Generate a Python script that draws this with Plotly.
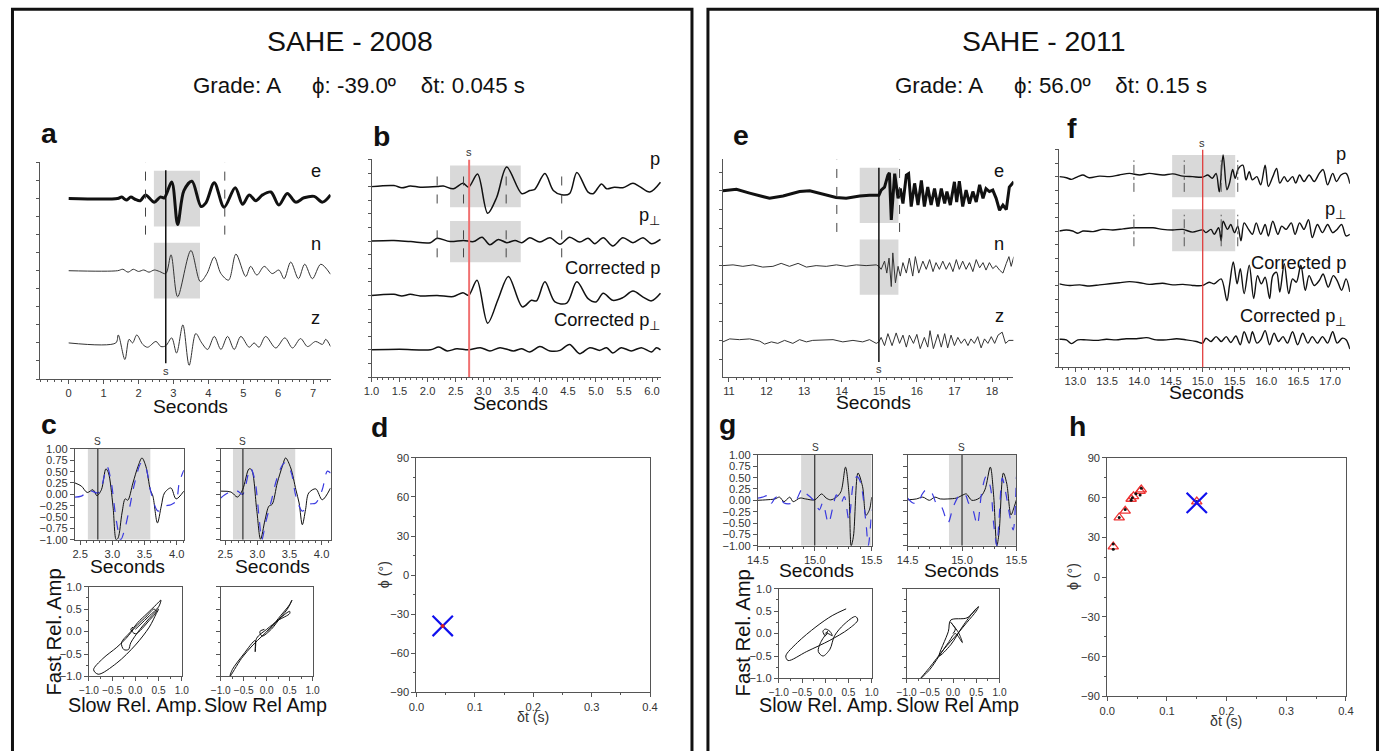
import plotly.graph_objects as go

W, H = 1390, 751
FONT = "Liberation Sans, Arial, Helvetica, sans-serif"
INK = "#111111"
AX = "#555555"
TXT = "#333333"
GRAY = "#d9d9d9"
BLUE = "#3a3ae0"

# ======================= SAHE 2008 =======================
title_2008 = "SAHE - 2008"
grade_2008, phi_2008, dt_2008 = "A", -39.0, 0.045

# panel a : e / n / z seismograms (time s, relative amplitude)
a_e_t = [0, 1.40, 1.52, 1.65, 1.78, 1.90, 2.05, 2.20, 2.45, 2.62, 2.74, 2.95, 3.12, 3.30, 3.53, 3.79, 3.93, 4.17, 4.45,
         4.77, 4.98, 5.17, 5.36, 5.55, 5.79, 6.02, 6.26, 6.50, 6.74, 7.03, 7.27, 7.5]
a_e_amp = [0, 0, 0.02, -0.02, 0.02, -0.01, -0.03, 0.05, -0.05, 0.02, 0.01, 0.23, -0.36, 0.11, 0.24, -0.11, -0.06, 0.22,
           -0.12, 0.15, -0.08, 0.05, -0.03, 0.05, 0.09, -0.09, 0.07, -0.05, 0.01, 0.03, -0.05, 0.05]
a_n_t = [0, 1.40, 1.55, 1.70, 1.85, 2.0, 2.15, 2.3, 2.45, 2.6, 2.78, 2.93, 3.12, 3.50, 3.77, 3.96, 4.17, 4.36, 4.58,
         4.79, 5.07, 5.21, 5.39, 5.60, 5.83, 6.02, 6.17, 6.36, 6.58, 6.76, 6.98, 7.22, 7.5]
a_n_amp = [0, 0, 0.02, -0.02, 0.02, -0.01, 0.01, -0.02, 0.01, -0.01, -0.04, 0.22, -0.36, 0.28, -0.15, -0.04, 0.19,
           -0.04, -0.13, 0.23, -0.08, 0.06, -0.06, 0.06, -0.04, 0.01, -0.11, 0.12, -0.11, 0.09, -0.11, 0.09, -0.05]
a_z_t = [0, 1.35, 1.42, 1.61, 1.73, 1.83, 1.95, 2.12, 2.26, 2.50, 2.64, 2.78, 2.95, 3.09, 3.27, 3.45, 3.64, 3.81, 3.98,
         4.17, 4.36, 4.55, 4.74, 4.93, 5.17, 5.31, 5.45, 5.64, 5.93, 6.19, 6.41, 6.64, 6.84, 7.07, 7.27, 7.36, 7.5]
a_z_amp = [0, 0, 0.11, -0.23, 0.05, 0, 0.11, -0.02, -0.06, 0.02, -0.05, -0.04, 0.07, -0.14, 0.25, -0.31, 0.13, 0,
           -0.09, 0.09, -0.09, 0.09, -0.09, 0.09, -0.06, 0, -0.06, 0.09, -0.07, 0.07, -0.07, 0.06, -0.05, 0.02, -0.02,
           0.05, -0.05]
a_window = (2.44, 3.76)
a_picks = (2.20, 4.47)
a_s_time = 2.78

# panel b : p, p-perp, corrected p, corrected p-perp
b_p_t = [1.0, 1.40, 1.54, 1.69, 1.87, 2.17, 2.28, 2.46, 2.63, 2.73, 2.89, 3.07, 3.23, 3.41, 3.68, 3.82, 3.91, 4.09, 4.24,
         4.39, 4.53, 4.66, 4.86, 4.95, 5.10, 5.19, 5.33, 5.48, 5.66, 5.78, 5.96, 6.15]
b_p_amp = [0, 0.02, -0.02, 0.01, -0.01, 0, 0.01, -0.04, 0.06, -0.01, 0.23, -0.49, -0.2, 0.36, -0.13, -0.07, -0.05,
           0.24, -0.07, -0.15, -0.13, 0.26, -0.1, -0.13, 0.05, -0.04, -0.01, -0.02, 0.06, 0, -0.1, 0.08]
b_pp_t = [1.0, 1.4, 1.7, 2.05, 2.17, 2.40, 2.64, 2.82, 2.97, 3.11, 3.26, 3.41, 3.56, 3.68, 3.82, 4.0, 4.18, 4.36, 4.53,
          4.71, 4.86, 4.98, 5.13, 5.30, 5.48, 5.66, 5.84, 5.99, 6.15]
b_pp_amp = [0, 0.01, -0.01, -0.03, 0.05, -0.01, 0.01, -0.01, 0.07, -0.07, 0.03, -0.03, 0.01, -0.03, 0.06, -0.02, 0.06,
            -0.06, 0.07, -0.02, 0.05, -0.05, 0.06, -0.09, 0.06, -0.03, 0.06, -0.05, 0.03]
b_cp_t = [1.0, 1.4, 1.54, 1.69, 1.87, 2.17, 2.46, 2.63, 2.73, 2.88, 3.07, 3.26, 3.44, 3.69, 3.85, 3.94, 4.09, 4.27, 4.48,
          4.66, 4.86, 5.0, 5.13, 5.30, 5.48, 5.66, 5.84, 5.99, 6.15]
b_cp_amp = [0, 0.02, -0.01, 0.02, -0.01, 0, -0.02, 0.05, 0, 0.28, -0.51, -0.06, 0.35, -0.21, -0.09, -0.1, 0.25, -0.12,
            -0.14, 0.25, -0.06, -0.12, 0.04, -0.09, -0.04, 0.08, -0.03, -0.10, 0.04]
b_cpp_t = [1.0, 1.5, 2.05, 2.2, 2.35, 2.52, 2.73, 2.94, 3.11, 3.29, 3.53, 3.68, 3.82, 4.0, 4.18, 4.36, 4.53, 4.71, 4.89,
           5.07, 5.19, 5.30, 5.45, 5.63, 5.81, 5.99, 6.08, 6.15]
b_cpp_amp = [0, 0.01, 0, 0.05, -0.02, 0.02, 0, 0.04, -0.02, 0.04, -0.02, 0.02, -0.04, 0.06, -0.02, -0.01, 0.1, -0.07,
             0.04, -0.01, 0.04, -0.06, 0.04, -0.02, 0.04, -0.04, 0.04, 0]
b_window = (2.40, 3.66)
b_picks = [2.17, 2.64, 3.40, 4.39]
b_s_time = 2.74

# panel c : normalised fast/slow waveforms and particle motion
c1_t_k = [2.42, 2.52, 2.61, 2.70, 2.76, 2.83, 2.90, 2.94, 3.01, 3.06, 3.09, 3.15, 3.20, 3.24, 3.32, 3.40, 3.46, 3.52,
          3.59, 3.63, 3.70, 3.76, 3.81, 3.91, 3.99, 4.11]
c1_k = [0.25, 0.18, 0.04, 0.10, -0.03, 0.10, 0.56, 0.47, -0.26, -1.0, -0.96, -0.41, -0.10, -0.13, 0.25, 0.62, 0.80,
        0.62, 0.10, -0.04, -0.63, -0.26, 0.03, 0.14, -0.10, 0.07]
c1_t_b = [2.42, 2.52, 2.64, 2.78, 2.84, 2.92, 2.98, 3.06, 3.13, 3.19, 3.27, 3.34, 3.45, 3.52, 3.60, 3.71, 3.81, 3.91,
          3.99, 4.04, 4.11]
c1_b = [-0.06, -0.04, 0.08, 0.03, 0.21, 0.60, 0.29, -0.56, -1.0, -0.78, -0.28, 0.21, 0.69, 0.58, 0.04, -0.37, -0.26,
        -0.23, -0.15, 0.26, 0.53]
c2_t_k = [2.43, 2.59, 2.69, 2.77, 2.87, 2.91, 2.99, 3.05, 3.12, 3.18, 3.23, 3.31, 3.39, 3.44, 3.52, 3.60, 3.65, 3.70,
          3.75, 3.80, 3.91, 4.01, 4.14]
c2_k = [0.07, 0.05, -0.06, 0.10, 0.56, 0.54, -0.34, -0.99, -0.56, -0.26, -0.22, 0.25, 0.62, 0.80, 0.58, 0.10, -0.19,
        -0.67, -0.34, 0.03, 0.12, -0.12, 0.14]
c2_t_b = [2.43, 2.54, 2.69, 2.77, 2.89, 2.96, 3.03, 3.07, 3.13, 3.21, 3.31, 3.42, 3.52, 3.60, 3.70, 3.80, 3.91, 4.01,
          4.09, 4.14]
c2_b = [-0.08, 0.03, 0.07, 0.0, 0.58, 0.32, -0.56, -1.0, -0.62, -0.19, 0.37, 0.69, 0.51, -0.04, -0.37, -0.22, -0.19,
        0.10, 0.51, 0.47]
c_window = (2.62, 3.59)
c_s_time = 2.775
c3_x = [0, 0.1, 0.3, 0.5, 0.55, 0.45, 0.25, 0.05, -0.1, -0.3, -0.25, -0.15, -0.1, 0.1, 0.35, 0.5, 0.45, 0.3, 0.0,
        -0.4, -0.8, -0.9, -0.7, -0.4, -0.2, 0.0, 0.25, 0.4, 0.45, 0.3, 0.0, -0.1, -0.05]
c3_y = [0.05, 0.15, 0.35, 0.55, 0.7, 0.6, 0.4, 0.2, 0.0, -0.25, -0.4, -0.4, -0.25, 0.05, 0.35, 0.5, 0.4, 0.1, -0.3,
        -0.7, -0.95, -0.85, -0.6, -0.35, -0.15, 0.1, 0.35, 0.5, 0.45, 0.25, -0.05, 0.05, 0.1]
c4_x = [0, 0.2, 0.45, 0.55, 0.5, 0.3, 0.1, -0.1, -0.3, -0.55, -0.8, -0.75, -0.5, -0.25, -0.25, -0.22, 0.0, 0.25, 0.5,
        0.5, 0.3, 0.1, -0.1, -0.15, -0.05]
c4_y = [0, 0.2, 0.5, 0.7, 0.6, 0.35, 0.1, -0.1, -0.3, -0.6, -1.0, -0.85, -0.5, -0.2, -0.45, -0.15, 0.05, 0.25, 0.4,
        0.45, 0.3, 0.05, -0.1, 0.0, 0.05]

# panel d : grid-search result
d_dt = [0.045]
d_phi = [-39.0]

# ======================= SAHE 2011 =======================
title_2011 = "SAHE - 2011"
grade_2011, phi_2011, dt_2011 = "A", 56.0, 0.15

e_e_t = [10.84, 11.2, 11.55, 11.82, 12.08, 12.44, 12.88, 13.15, 13.5, 13.85, 14.12, 14.48, 14.74, 14.99, 15.05, 15.14,
         15.23, 15.27, 15.32, 15.36, 15.41, 15.5, 15.56, 15.63, 15.72, 15.78, 15.85, 15.94, 16.03, 16.12, 16.2, 16.29,
         16.38, 16.47, 16.56, 16.65, 16.74, 16.8, 16.89, 17.0, 17.06, 17.13, 17.22, 17.31, 17.4, 17.49, 17.58, 17.67,
         17.76, 17.84, 17.93, 18.02, 18.11, 18.2, 18.29, 18.38, 18.46, 18.58]
e_e_amp = [0, 0.02, -0.03, -0.07, -0.1, -0.07, -0.01, 0, -0.04, -0.09, -0.1, -0.07, -0.06, -0.06, 0.01, 0.05, 0.21,
           0.24, -0.39, -0.08, 0.23, -0.1, 0.03, -0.17, 0.21, 0.23, -0.21, 0.10, -0.19, 0.14, -0.21, 0.05, -0.19, 0.03,
           -0.21, 0.03, -0.17, -0.01, -0.19, 0.12, -0.15, 0.13, -0.21, 0.01, -0.17, -0.01, -0.15, 0.08, -0.10, 0.03,
           -0.01, 0.01, -0.10, -0.26, -0.19, -0.25, 0.05, 0.12]
e_n_t = [10.84, 11.11, 11.37, 11.64, 11.9, 12.17, 12.39, 12.61, 12.84, 13.06, 13.32, 13.59, 13.86, 14.12, 14.39, 14.65,
         14.92, 14.99, 15.05, 15.14, 15.2, 15.26, 15.32, 15.36, 15.43, 15.5, 15.56, 15.63, 15.72, 15.8, 15.89, 15.96,
         16.05, 16.16, 16.25, 16.34, 16.43, 16.51, 16.6, 16.69, 16.78, 16.87, 16.96, 17.05, 17.13, 17.22, 17.31, 17.4,
         17.49, 17.58, 17.67, 17.76, 17.84, 17.93, 18.02, 18.11, 18.2, 18.29, 18.38, 18.45, 18.51, 18.58]
e_n_amp = [0, 0.01, -0.01, 0.01, -0.02, -0.01, 0.03, -0.01, 0.03, -0.02, 0, -0.01, 0.01, -0.01, 0.01, 0, 0.01, -0.01,
           -0.05, 0.06, -0.1, 0.1, -0.28, 0.17, -0.23, -0.01, -0.14, 0.04, -0.1, 0.1, -0.14, 0.12, -0.1, 0.06, -0.05,
           0.08, -0.08, 0.04, -0.05, 0.06, -0.05, 0.04, -0.08, 0.08, -0.05, 0.06, -0.05, 0.04, -0.08, 0.08, -0.03, 0.04,
           -0.06, 0.04, -0.04, 0, -0.06, -0.1, 0.03, 0.12, -0.01, 0.12]
e_z_t = [10.84, 11.02, 11.28, 11.55, 11.82, 11.95, 12.13, 12.3, 12.48, 12.7, 12.88, 13.06, 13.23, 13.5, 13.77, 14.03,
         14.3, 14.56, 14.74, 14.92, 14.99, 15.05, 15.14, 15.23, 15.34, 15.45, 15.54, 15.63, 15.72, 15.8, 15.91, 16.0,
         16.09, 16.2, 16.29, 16.35, 16.44, 16.56, 16.65, 16.74, 16.82, 16.91, 17.0, 17.09, 17.18, 17.27, 17.36, 17.44,
         17.53, 17.62, 17.71, 17.8, 17.89, 17.98, 18.07, 18.16, 18.27, 18.36, 18.45, 18.58]
e_z_amp = [-0.02, 0.02, 0.01, 0.02, -0.01, -0.05, -0.02, -0.04, 0, -0.04, 0.01, -0.02, 0, 0, 0.01, -0.02, 0, -0.02,
           0.01, -0.04, -0.02, 0.04, -0.07, 0.09, -0.07, 0.1, -0.04, 0.07, -0.09, 0.07, -0.04, 0.08, -0.11, 0.04, -0.09,
           0.13, -0.11, 0.08, -0.09, 0.09, -0.1, 0.07, -0.07, 0.04, -0.04, 0.02, -0.07, 0.02, -0.04, 0.05, -0.1, 0.02,
           -0.04, 0.05, -0.04, 0.07, 0.11, -0.04, 0, 0]
e_window = (14.48, 15.51)
e_picks = (13.87, 15.54)
e_s_time = 14.99

f_p_t = [12.75, 12.86, 12.94, 13.04, 13.12, 13.22, 13.38, 13.54, 13.69, 13.85, 14.01, 14.16, 14.37, 14.53, 14.69,
         14.84, 15.0, 15.08, 15.15, 15.21, 15.26, 15.32, 15.38, 15.42, 15.47, 15.51, 15.56, 15.63, 15.68, 15.73, 15.78,
         15.85, 15.91, 15.98, 16.03, 16.1, 16.16, 16.21, 16.28, 16.33, 16.41, 16.46, 16.52, 16.59, 16.67, 16.75, 16.83,
         16.89, 16.96, 17.04, 17.1, 17.17, 17.25, 17.31]
f_p_amp = [0, -0.02, -0.05, 0, 0.03, -0.02, 0.01, 0, 0.03, 0.06, 0.03, 0.06, 0.03, 0.05, 0.01, 0, -0.01, 0.03, -0.03,
           0.06, -0.28, 0.4, -0.24, -0.12, 0.13, -0.03, 0.15, 0.21, -0.06, 0.09, -0.06, 0, -0.15, 0.21, -0.18, 0, 0.15,
           -0.12, 0, -0.09, 0, -0.12, 0.03, -0.09, 0.03, -0.09, 0.06, 0.13, -0.15, 0.06, -0.09, 0.03, 0.06, -0.13]
f_pp_t = [12.75, 12.86, 12.96, 13.04, 13.12, 13.28, 13.43, 13.59, 13.75, 13.91, 14.06, 14.22, 14.37, 14.53, 14.69,
          14.84, 15.0, 15.05, 15.13, 15.18, 15.25, 15.29, 15.32, 15.39, 15.44, 15.5, 15.55, 15.6, 15.65, 15.72, 15.78,
          15.84, 15.91, 15.98, 16.03, 16.1, 16.18, 16.24, 16.31, 16.39, 16.45, 16.52, 16.59, 16.66, 16.72, 16.8, 16.88,
          16.96, 17.04, 17.11, 17.18, 17.25, 17.31]
f_pp_amp = [0, 0.02, 0, -0.04, 0, -0.01, 0.03, 0.02, 0.04, 0.06, 0.06, 0.06, 0.03, 0.02, 0.03, -0.02, 0.02, -0.03,
            0.03, -0.06, 0.06, -0.18, 0.18, 0.03, 0.12, -0.03, 0.09, -0.18, 0.15, 0.03, -0.06, 0.15, -0.06, 0.12, -0.09,
            0.18, -0.06, 0.09, 0.03, 0.15, -0.06, 0.15, 0.03, 0.21, -0.12, 0.12, -0.03, 0.12, -0.03, 0.03, 0.12, -0.09,
            -0.06]
f_cp_t = [12.75, 12.91, 13.07, 13.22, 13.38, 13.54, 13.69, 13.85, 14.01, 14.16, 14.37, 14.53, 14.69, 14.84, 15.0, 15.1,
          15.18, 15.29, 15.38, 15.42, 15.48, 15.54, 15.59, 15.65, 15.73, 15.8, 15.86, 15.92, 15.98, 16.05, 16.1, 16.16,
          16.21, 16.28, 16.35, 16.41, 16.47, 16.54, 16.61, 16.67, 16.75, 16.83, 16.89, 16.97, 17.05, 17.11, 17.18, 17.25,
          17.31]
f_cp_amp = [0.03, 0, 0.01, -0.01, 0.01, 0.03, 0.05, 0.07, 0.05, 0.02, 0.04, 0.01, 0.02, 0, 0, 0.06, 0.03, 0.12, -0.28,
            0, 0.43, 0.03, 0.31, -0.15, 0.37, -0.24, 0.18, 0.03, 0.15, -0.24, 0.18, 0.24, -0.12, 0.4, -0.15, 0.12, 0.06,
            0.37, -0.09, 0.18, 0, 0.09, 0.21, -0.03, 0.18, 0.09, -0.09, 0.12, -0.12]
f_cpp_t = [12.75, 12.86, 12.94, 13.04, 13.17, 13.33, 13.49, 13.64, 13.8, 13.96, 14.12, 14.27, 14.43, 14.59, 14.74,
           14.9, 15.0, 15.05, 15.13, 15.21, 15.29, 15.37, 15.44, 15.52, 15.59, 15.65, 15.73, 15.78, 15.85, 15.91, 15.98,
           16.05, 16.12, 16.19, 16.26, 16.33, 16.41, 16.49, 16.57, 16.65, 16.72, 16.8, 16.88, 16.96, 17.04, 17.11, 17.19,
           17.25, 17.31]
f_cpp_amp = [0.01, 0, -0.07, 0, 0, -0.01, 0.01, 0, 0.02, 0.02, 0.04, 0, 0, 0.02, 0, -0.03, -0.06, 0.03, -0.03, 0.06,
             -0.03, 0.06, -0.05, 0.07, -0.09, 0.15, -0.06, 0.15, -0.06, 0, 0.17, -0.09, 0.12, -0.03, 0.06, -0.06, 0.15,
             -0.09, 0.12, -0.06, 0.06, -0.06, 0.06, -0.06, 0.15, -0.06, 0.03, 0, -0.17]
f_window = (14.52, 15.51)
f_picks = [13.92, 14.71, 15.29, 15.55]
f_s_time = 15.0

g1_t_k = [14.5, 14.57, 14.65, 14.69, 14.73, 14.78, 14.81, 14.87, 14.92, 15.0, 15.06, 15.1, 15.14, 15.19, 15.23, 15.27,
          15.3, 15.32, 15.34, 15.38, 15.42, 15.45, 15.48, 15.5]
g1_k = [0.0, 0.01, 0.03, 0.07, -0.03, 0.07, -0.03, 0.05, 0.03, 0.01, 0.14, 0.05, 0.01, 0.07, 0.19, 0.73, 0.16, -1.0,
        -0.79, 0.6, 0.3, -0.33, -0.21, 0.07]
g1_t_b = [14.5, 14.54, 14.59, 14.62, 14.65, 14.69, 14.73, 14.82, 14.89, 14.92, 14.97, 15.0, 15.04, 15.07, 15.12, 15.16,
          15.19, 15.23, 15.26, 15.3, 15.34, 15.37, 15.4, 15.45, 15.47, 15.5]
g1_b = [0.05, 0.07, 0.1, -0.06, 0.05, 0.1, -0.06, -0.05, 0.25, 0.16, 0.05, -0.03, -0.21, -0.06, -0.5, -0.14, 0.12,
        -0.06, 0.08, -0.43, 0.38, 0.52, 0.41, -0.5, -1.0, -0.21]
g2_t_k = [14.5, 14.58, 14.64, 14.7, 14.75, 14.8, 14.87, 14.95, 15.01, 15.04, 15.09, 15.16, 15.21, 15.26, 15.29, 15.32,
          15.34, 15.38, 15.41, 15.45, 15.48, 15.5]
g2_k = [0.01, 0.03, 0.07, 0.0, 0.07, 0.03, 0.03, 0.05, 0.12, 0.14, 0.0, 0.05, 0.23, 0.73, 0.12, -1.0, -0.72, 0.6, 0.38,
        -0.32, -0.14, 0.01]
g2_t_b = [14.5, 14.55, 14.6, 14.63, 14.67, 14.72, 14.77, 14.81, 14.87, 14.92, 14.98, 15.03, 15.06, 15.1, 15.14, 15.18,
          15.22, 15.26, 15.29, 15.32, 15.34, 15.37, 15.4, 15.44, 15.47, 15.5]
g2_b = [0.05, -0.06, -0.06, 0.12, 0.23, 0.17, -0.1, -0.14, -0.5, -0.14, 0.12, 0.12, -0.06, -0.21, -0.54, 0.16, 0.52,
        0.3, -0.5, -1.0, -0.43, 0.49, 0.19, -0.36, -0.65, 0.52]
g_window = (14.88, 15.5)
g_s_time = 15.0
g3_x = [0.0, 0.05, 0.0, -0.05, 0.0, 0.1, 0.15, 0.05, -0.1, -0.15, -0.05, 0.1, 0.2, 0.4, 0.65, 0.7, 0.5, 0.1, -0.4,
        -0.8, -0.85, -0.6, -0.2, 0.15, 0.45]
g3_y = [0.0, 0.05, -0.05, 0.05, 0.1, 0.05, -0.05, 0.0, -0.2, -0.4, -0.5, -0.35, -0.05, 0.2, 0.38, 0.3, 0.1, -0.15,
        -0.4, -0.6, -0.5, -0.2, 0.15, 0.4, 0.55]
g4_x = [0.0, 0.05, -0.05, 0.1, 0.15, 0.2, 0.05, -0.1, -0.3, -0.5, -0.7, -0.5, -0.2, 0.1, 0.3, 0.5, 0.55, 0.45, 0.2,
        -0.05, -0.3, -0.1, -0.05, 0.3, 0.5]
g4_y = [0.0, 0.1, 0.25, 0.05, -0.05, -0.2, 0.0, -0.2, -0.5, -0.8, -1.0, -0.75, -0.35, 0.0, 0.25, 0.5, 0.6, 0.5, 0.15,
        -0.25, -0.5, 0.05, 0.3, 0.35, 0.55]

h_dt_tri = [0.01, 0.02, 0.03, 0.04, 0.044, 0.055, 0.057, 0.15]
h_phi_tri = [23, 45, 50, 59, 61, 65, 66, 57]
h_dt_dot = [0.01, 0.01, 0.02, 0.03, 0.04, 0.042, 0.048, 0.055, 0.057, 0.15]
h_phi_dot = [21, 25, 45, 51, 58, 60, 63, 62, 67, 57]
h_dt = [0.15]
h_phi = [56.0]

# ======================= page geometry =======================
# the photographed page comes back uniformly shrunk and centred; pixel positions below are the
# reference's positions, mapped back onto the page so they land where the reference has them
SC = 0.9858
OFX, OFY = 9.9, 5.3


def PX(x):
    return (x - OFX) / SC


def PY(y):
    return (y - OFY) / SC


def FS(s):
    return round(s / SC, 2)


# ======================= figure helpers =======================
fig = go.Figure()
layout = dict(width=W, height=H, autosize=False, margin=dict(l=0, r=0, t=0, b=0, pad=0), paper_bgcolor="white",
              plot_bgcolor="white", showlegend=False, font=dict(family=FONT, color=INK))
shapes, annotations = [], []


def xr(n):
    return "x" if n == 1 else f"x{n}"


def yr(n):
    return "y" if n == 1 else f"y{n}"


def axis(**kw):
    d = dict(showline=True, linecolor=AX, linewidth=1, ticks="outside", ticklen=4, tickwidth=1, tickcolor=AX,
             tickfont=dict(family=FONT, size=FS(11), color=TXT), showgrid=False, zeroline=False, fixedrange=True,
             tickangle=0)
    d.update(kw)
    return d


def add_axes(n, x0, x1, y0, y1, xrange, yrange, xkw, ykw):
    xk = "xaxis" if n == 1 else f"xaxis{n}"
    yk = "yaxis" if n == 1 else f"yaxis{n}"
    layout[xk] = axis(domain=[PX(x0) / W, PX(x1) / W], range=list(xrange), anchor=yr(n), **xkw)
    layout[yk] = axis(domain=[1 - PY(y1) / H, 1 - PY(y0) / H], range=list(yrange), anchor=xr(n), **ykw)


def line(n, x, y, color=INK, width=1.0, dash=None, shape="spline"):
    fig.add_trace(go.Scatter(x=x, y=y, mode="lines", hoverinfo="skip",
                             line=dict(color=color, width=width, dash=dash, shape=shape, smoothing=0.9),
                             xaxis=xr(n), yaxis=yr(n)))


def rect(n, x0, x1, y0, y1):
    shapes.append(dict(type="rect", xref=xr(n), yref=yr(n), x0=x0, x1=x1, y0=y0, y1=y1, fillcolor=GRAY,
                       line=dict(width=0), layer="below"))


def vline(n, x, y0, y1, color=INK, width=1, dash="solid"):
    shapes.append(dict(type="line", xref=xr(n), yref=yr(n), x0=x, x1=x, y0=y0, y1=y1,
                       line=dict(color=color, width=width, dash=dash)))


def text(t, x, y, size, bold=False, xanchor="center", angle=0, color=INK, ref=None):
    if bold:
        t = f"<b>{t}</b>"
    if ref is None:
        annotations.append(dict(text=t, x=PX(x) / W, y=1 - PY(y) / H, xref="paper", yref="paper", showarrow=False,
                                xanchor=xanchor, yanchor="middle", textangle=angle,
                                font=dict(family=FONT, size=FS(size), color=color)))
    else:
        annotations.append(dict(text=t, x=x, y=y, xref=xr(ref), yref=yr(ref), showarrow=False,
                                xanchor=xanchor, yanchor="middle",
                                font=dict(family=FONT, size=FS(size), color=color)))


def offs(vals, base):
    return [v + base for v in vals]


NB = "\u00a0"


def subtitle(grade, phi, dt):
    return f"Grade: {grade}{NB * 5}ϕ: {phi:.1f}º{NB * 4}δt: {dt:g} s"


PERP = "p<sub>⊥</sub>"
trace_ykw = dict(showticklabels=False, dtick=0.25, ticklen=3)


def trace_panel(n, box, xrange, yrange, dtick, tick0, fmt, minor):
    add_axes(n, *box, xrange, yrange,
             dict(dtick=dtick, tick0=tick0, tickformat=fmt,
                  minor=dict(ticks="outside", ticklen=2, dtick=minor, tickcolor=AX)),
             dict(trace_ykw))


def small_panel(n, box, xrange, show_y):
    add_axes(n, *box, xrange, (-1, 1),
             dict(dtick=0.5, tick0=14.5 if xrange[0] > 10 else 2.5, tickformat=".1f", mirror=True,
                  minor=dict(ticks="outside", ticklen=2, dtick=0.1, tickcolor=AX)),
             dict(dtick=0.25, tickformat=".2f", mirror=True, showticklabels=show_y))


def hodo_panel(n, box, show_y):
    add_axes(n, *box, (-1, 1), (-1, 1),
             dict(dtick=0.5, tickformat=".1f", mirror=True, tickfont=dict(family=FONT, size=FS(10), color=TXT),
                  minor=dict(ticks="outside", ticklen=2, dtick=0.25, tickcolor=AX)),
             dict(dtick=0.5, tickformat=".1f", mirror=True, showticklabels=show_y,
                  minor=dict(ticks="outside", ticklen=2, dtick=0.25, tickcolor=AX)))


def result_panel(n, box):
    add_axes(n, *box, (0, 0.4), (-90, 90),
             dict(dtick=0.1, tickformat=".1f", mirror=True,
                  minor=dict(ticks="outside", ticklen=2, dtick=0.05, tickcolor=AX)),
             dict(dtick=30, mirror=True, minor=dict(ticks="outside", ticklen=2, dtick=15, tickcolor=AX)))


# ======================= outer frames and titles =======================
for (x0, x1) in [(7, 692), (708, 1383)]:
    px0 = min(max(PX(x0), 1.5), W - 1.5)
    px1 = min(max(PX(x1), 1.5), W - 1.5)
    shapes.append(dict(type="rect", xref="paper", yref="paper", x0=px0 / W, x1=px1 / W, y0=-0.05,
                       y1=1 - PY(8.5) / H, line=dict(color="#111111", width=3), fillcolor="rgba(0,0,0,0)"))
text(title_2008, 349, 40, 28)
text(subtitle(grade_2008, phi_2008, dt_2008), 358, 85, 22)
text(title_2011, 1045, 40, 28)
text(subtitle(grade_2011, phi_2011, dt_2011), 1052, 85, 22)

# ======================= panel a =======================
trace_panel(1, (39, 330, 162, 379), (-0.82, 7.5), (-0.5, 2.5), 1, 0, "d", 0.2)
rect(1, a_window[0], a_window[1], 1.614, 2.386)
rect(1, a_window[0], a_window[1], 0.614, 1.386)
for tp in a_picks:
    vline(1, tp, 1.5, 2.5, color="#444444", dash="dash")
line(1, a_e_t, offs(a_e_amp, 2), width=3)
line(1, a_n_t, offs(a_n_amp, 1), width=1, color="#333333")
line(1, a_z_t, offs(a_z_amp, 0), width=1, color="#333333")
vline(1, a_s_time, -0.28, 2.39, width=1.5)
text("s", a_s_time, -0.39, 11, ref=1, color=TXT)
for lab, yy in [("e", 170), ("n", 243), ("z", 317)]:
    text(lab, 315, yy, 18)
text("a", 48, 133, 28, bold=True)
text("Seconds", 190, 407, 19)

# ======================= panel b =======================
trace_panel(2, (371, 661, 159, 377), (1.0, 6.16), (-0.5, 3.5), 0.5, 1.0, ".1f", 0.1)
rect(2, b_window[0], b_window[1], 2.62, 3.386)
rect(2, b_window[0], b_window[1], 1.61, 2.37)
for tp in b_picks:
    vline(2, tp, 2.69, 3.31, color="#444444", dash="dash")
    vline(2, tp, 1.70, 2.30, color="#444444", dash="dash")
line(2, b_p_t, offs(b_p_amp, 3), width=1.5)
line(2, b_pp_t, offs(b_pp_amp, 2), width=1.5)
line(2, b_cp_t, offs(b_cp_amp, 1), width=1.5)
line(2, b_cpp_t, offs(b_cpp_amp, 0), width=1.5)
vline(2, b_s_time, -0.5, 3.5, color="#f07070", width=2)
text("s", 469, 152, 11, color=TXT)
for lab, yy in [("p", 158), (PERP, 216), ("Corrected p", 267), ("Corrected " + PERP, 321)]:
    text(lab, 662, yy, 18, xanchor="right")
text("b", 381, 136, 28, bold=True)
text("Seconds", 510, 404, 19)

# ======================= panel c =======================
small_panel(3, (74, 183, 449, 540), (2.42, 4.11), True)
small_panel(4, (220, 330, 449, 540), (2.43, 4.14), False)
for n, tk, k, tb, b in [(3, c1_t_k, c1_k, c1_t_b, c1_b), (4, c2_t_k, c2_k, c2_t_b, c2_b)]:
    rect(n, c_window[0], c_window[1], -1, 1)
    vline(n, c_s_time, -1, 1, width=1)
    line(n, tk, k, width=1)
    line(n, tb, b, color=BLUE, width=1.2, dash="dash")
text("S", 97, 442, 10, color=TXT)
text("S", 242, 442, 10, color=TXT)
text("Seconds", 127, 567, 19)
text("Seconds", 272, 567, 19)
hodo_panel(5, (88, 181, 587, 677), True)
hodo_panel(6, (220, 312, 587, 677), False)
line(5, c3_x, c3_y, width=1)
line(6, c4_x, c4_y, width=1)
text("Fast Rel. Amp", 53, 633, 20, angle=-90)
text("Slow Rel. Amp.", 134, 706, 19.5)
text("Slow Rel Amp", 265, 706, 19.5)
text("c", 48, 424, 28, bold=True)

# ======================= panel d =======================
result_panel(7, (416, 650, 458, 693))
fig.add_trace(go.Scatter(x=d_dt, y=d_phi, mode="markers", xaxis="x7", yaxis="y7", hoverinfo="skip",
                         marker=dict(symbol="x-thin", size=FS(20), line=dict(color="#1010ee", width=2.2))))
fig.add_trace(go.Scatter(x=d_dt, y=d_phi, mode="markers", xaxis="x7", yaxis="y7", hoverinfo="skip",
                         marker=dict(symbol="circle", size=4, color="#dd2222")))
text("δt (s)", 533, 718, 14, color=TXT)
text("ϕ (°)", 383, 575, 14, angle=-90, color=TXT)
text("d", 379, 427, 28, bold=True)

# ======================= panel e =======================
trace_panel(8, (723, 1014, 159, 377), (10.84, 18.57), (-0.49, 2.42), 1, 11, "d", 0.2)
rect(8, e_window[0], e_window[1], 1.57, 2.31)
rect(8, e_window[0], e_window[1], 0.61, 1.35)
for tp in e_picks:
    vline(8, tp, 1.45, 2.42, color="#444444", dash="dash")
line(8, e_e_t, offs(e_e_amp, 2), width=3, shape="linear")
line(8, e_n_t, offs(e_n_amp, 1), width=1, color="#333333", shape="linear")
line(8, e_z_t, offs(e_z_amp, 0), width=1, color="#333333", shape="linear")
vline(8, e_s_time, -0.29, 2.31, width=1.5)
text("s", e_s_time, -0.38, 11, ref=8, color=TXT)
for lab, yy in [("e", 170), ("n", 243), ("z", 315)]:
    text(lab, 1000, yy, 18)
text("e", 741, 135, 28, bold=True)
text("Seconds", 874, 403, 19)

# ======================= panel f =======================
trace_panel(9, (1060, 1351, 149, 367), (12.75, 17.31), (-0.5, 3.5), 0.5, 13.0, ".1f", 0.1)
rect(9, f_window[0], f_window[1], 2.62, 3.40)
rect(9, f_window[0], f_window[1], 1.63, 2.40)
for tp in f_picks:
    vline(9, tp, 2.72, 3.30, color="#555555", dash="dashdot")
    vline(9, tp, 1.72, 2.30, color="#555555", dash="dashdot")
line(9, f_p_t, offs(f_p_amp, 3), width=1.4)
line(9, f_pp_t, offs(f_pp_amp, 2), width=1.4)
line(9, f_cp_t, offs(f_cp_amp, 1), width=1.4)
line(9, f_cpp_t, offs(f_cpp_amp, 0), width=1.4)
vline(9, f_s_time, -0.5, 3.5, color="#e03030", width=1.2)
text("s", 1203, 143, 11, color=TXT)
for lab, yy in [("p", 153), (PERP, 210), ("Corrected p", 262), ("Corrected " + PERP, 317)]:
    text(lab, 1349, yy, 18, xanchor="right")
text("f", 1073, 128, 28, bold=True)
text("Seconds", 1207, 392, 19)

# ======================= panel g =======================
small_panel(10, (758, 872, 455, 546), (14.5, 15.5), True)
small_panel(11, (908, 1017, 455, 546), (14.5, 15.5), False)
for n, tk, k, tb, b in [(10, g1_t_k, g1_k, g1_t_b, g1_b), (11, g2_t_k, g2_k, g2_t_b, g2_b)]:
    rect(n, g_window[0], g_window[1], -1, 1)
    vline(n, g_s_time, -1, 1, width=1)
    line(n, tk, k, width=1)
    line(n, tb, b, color=BLUE, width=1.2, dash="dash")
text("S", 816, 448, 10, color=TXT)
text("S", 962, 448, 10, color=TXT)
text("Seconds", 817, 571, 19)
text("Seconds", 962, 571, 19)
hodo_panel(12, (779, 872, 589, 679), True)
hodo_panel(13, (907, 1000, 589, 679), False)
line(12, g3_x, g3_y, width=1)
line(13, g4_x, g4_y, width=1)
text("Fast Rel. Amp", 743, 633, 20, angle=-90)
text("Slow Rel. Amp.", 826, 706, 19.5)
text("Slow Rel Amp", 958, 706, 19.5)
text("g", 728, 424, 28, bold=True)

# ======================= panel h =======================
result_panel(14, (1108, 1347, 458, 697))
fig.add_trace(go.Scatter(x=h_dt_tri, y=h_phi_tri, mode="markers", xaxis="x14", yaxis="y14", hoverinfo="skip",
                         marker=dict(symbol="triangle-up-open", size=FS(9), color="#ee3333", line=dict(width=1.3))))
fig.add_trace(go.Scatter(x=h_dt_dot, y=h_phi_dot, mode="markers", xaxis="x14", yaxis="y14", hoverinfo="skip",
                         marker=dict(symbol="circle", size=3, color="#111111")))
fig.add_trace(go.Scatter(x=h_dt, y=h_phi, mode="markers", xaxis="x14", yaxis="y14", hoverinfo="skip",
                         marker=dict(symbol="x-thin", size=FS(20), line=dict(color="#1010ee", width=2.2))))
text("δt (s)", 1227, 722, 14, color=TXT)
text("ϕ (°)", 1073, 577, 14, angle=-90, color=TXT)
text("h", 1078, 426, 28, bold=True)

layout["shapes"] = shapes
layout["annotations"] = annotations
fig.update_layout(**layout)
fig.write_html("out.html", config={"displayModeBar": False},
               post_script="document.documentElement.style.margin='0';document.body.style.margin='0';"
                           "document.documentElement.style.overflow='hidden';document.body.style.overflow='hidden';")
